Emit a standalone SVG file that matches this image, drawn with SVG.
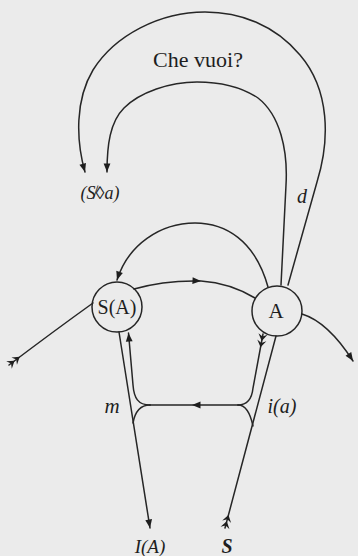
<svg xmlns="http://www.w3.org/2000/svg" width="358" height="556" viewBox="0 0 358 556">
  <style>
    .ln { fill: none; stroke: #262626; stroke-width: 1.5; stroke-linecap: round; }
    .node { fill: none; stroke: #262626; stroke-width: 1.5; }
    .t { font-family: "Liberation Serif", "DejaVu Serif", serif; fill: #1e1e1e; text-anchor: middle; }
    .it { font-style: italic; }
  </style>
  <defs>
    <!-- solid arrowhead, tip at the path end -->
    <marker id="arrow" viewBox="-10 -5 12 10" refX="0" refY="0" markerWidth="12" markerHeight="10" markerUnits="userSpaceOnUse" orient="auto">
      <path d="M0,0 L-8.5,-3.4 L-8.5,3.4 Z" fill="#1e1e1e"/>
    </marker>
    <!-- feathered tail at the origin of a vector -->
    <marker id="fletch" viewBox="-2 -6 18 12" refX="0" refY="0" markerWidth="18" markerHeight="12" markerUnits="userSpaceOnUse" orient="auto">
      <path d="M7,0 L0,-4.6 L2.6,0 L0,4.6 Z M13.5,0 L6.5,-4.6 L9.1,0 L6.5,4.6 Z" fill="#1e1e1e"/>
    </marker>
  </defs>

  <rect width="358" height="556" fill="#ebebeb"/>

  <g id="connectors">
    <!-- upper loops: A up and over to (S◊a) -->
    <path class="ln" d="M288,285 L317,182 C330,140 330,90 300,55 C275,25 240,12 205,12 C160,12 115,35 93,70 C75,100 76,140 85,172" marker-end="url(#arrow)"/>
    <path class="ln" d="M281,285 L286,185 C288,150 280,115 258,98 C240,86 220,82 197,82 C170,82 140,92 124,108 C110,122 107,145 107,172" marker-end="url(#arrow)"/>
    <!-- arc A back to S(A) -->
    <path class="ln" d="M268,287 C255,240 225,223 195,223 C160,223 128,245 117,280" marker-end="url(#arrow)"/>
    <!-- S(A) to A -->
    <path class="ln" d="M134,289 Q165,280 201,281 Q230,283 255,298" marker-mid="url(#arrow)"/>
    <!-- left tail into S(A) -->
    <path class="ln" d="M9,365 Q54,331 93,303" marker-start="url(#fletch)"/>
    <!-- A out to the right -->
    <path class="ln" d="M302,314 Q328,322 353,361" marker-end="url(#arrow)"/>

    <!-- lower part -->
    <path class="ln" d="M119,332 L150,528" marker-end="url(#arrow)"/>
    <path class="ln" d="M225,528 L276,336" marker-start="url(#fletch)"/>
    <path class="ln" d="M263,334 L253,388 C252,398 248,405 238,405" marker-start="url(#fletch)"/>
    <path class="ln" d="M238,405 L192,405 L150,405" marker-mid="url(#arrow)"/>
    <path class="ln" d="M150,405 C138,405 134,398 133,385 L128.5,333" marker-end="url(#arrow)"/>
    <path class="ln" d="M133,423 C135,412 140,405 150,405"/>
    <path class="ln" d="M253,426 C250,412 245,405 238,405"/>
  </g>

  <g id="node-SA">
    <circle class="node" cx="117" cy="307" r="25"/>
    <text class="t" x="117" y="314" font-size="20">S(A)</text>
  </g>
  <g id="node-A">
    <circle class="node" cx="277" cy="311" r="25"/>
    <text class="t" x="276" y="318" font-size="21">A</text>
  </g>

  <g id="labels">
    <text class="t" x="198" y="67" font-size="22">Che vuoi?</text>
    <text class="t it" x="100" y="199" font-size="18">(S̸◊a)</text>
    <text class="t it" x="302" y="203" font-size="20">d</text>
    <text class="t it" x="112" y="413" font-size="21">m</text>
    <text class="t it" x="282" y="413" font-size="20">i(a)</text>
    <text class="t it" x="150" y="553" font-size="19">I(A)</text>
    <text class="t it" x="227" y="553" font-size="20" font-weight="bold">S</text>
  </g>
</svg>
